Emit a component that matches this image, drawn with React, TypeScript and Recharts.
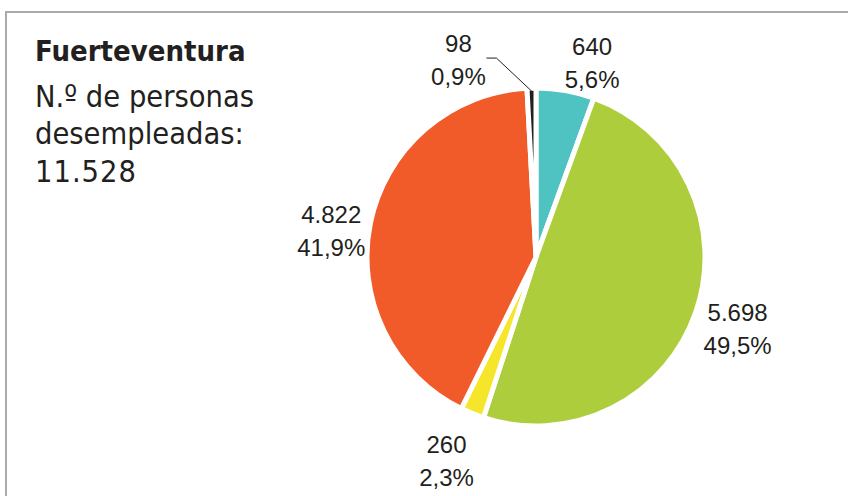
import React from "react";
import { PieChart, Pie, Cell } from "recharts";

// slices clockwise from 12 o'clock
const SLICE_NAMES = ["Turquesa", "Verde", "Amarillo", "Naranja", "Negro"];
const SLICE_VALUES = [640, 5698, 260, 4822, 98];
const SLICE_COLORS = ["#4ec3c1", "#aecd3c", "#f6e62b", "#f15a29", "#231f20"];
const TITLE = "Fuerteventura";
const SUBTITLE_LINES = ["N.º de personas", "desempleadas:"];
const TOTAL_LABEL = "11.528";

// label nudges (px) applied after radial placement
const LABEL_NUDGE: [number, number][] = [
  [20, 11],
  [5, 5],
  [-11, 12],
  [-1, 16],
  [-72, 11],
];
const LEADER_INDEX = 4;

const TEXT = "#231f20";
const LABEL_FONT = "'Liberation Sans', Arial, sans-serif";
const TITLE_FONT = "'DejaVu Sans Condensed', 'Liberation Sans', sans-serif";

const total = SLICE_VALUES.reduce((s, v) => s + v, 0);
const data = SLICE_NAMES.map((name, i) => ({ name, value: SLICE_VALUES[i] }));

const fmtInt = (v: number) => v.toString().replace(/\B(?=(\d{3})+(?!\d))/g, ".");
const fmtPct = (v: number) => ((v / total) * 100).toFixed(1).replace(".", ",") + "%";

const RAD = Math.PI / 180;

function renderLabel(props: any) {
  const { cx, cy, midAngle, outerRadius, index, value } = props;
  const r = outerRadius + 39;
  const x = cx + r * Math.cos(-midAngle * RAD) + LABEL_NUDGE[index][0];
  const y = cy + r * Math.sin(-midAngle * RAD) + LABEL_NUDGE[index][1];
  const edgeR = outerRadius - 3;
  const ex = cx + edgeR * Math.cos(-midAngle * RAD);
  const ey = cy + edgeR * Math.sin(-midAngle * RAD);
  return (
    <g key={`lbl-${index}`}>
      {index === LEADER_INDEX ? (
        <polyline
          points={`${x + 28},${y - 2} ${x + 38},${y - 2} ${ex},${ey}`}
          fill="none"
          stroke={TEXT}
          strokeWidth={1}
        />
      ) : null}
      <text
        x={x}
        y={y - 8.5}
        textAnchor="middle"
        fill={TEXT}
        fontSize={24}
        fontFamily={LABEL_FONT}
      >
        {fmtInt(value)}
      </text>
      <text
        x={x}
        y={y + 24.5}
        textAnchor="middle"
        fill={TEXT}
        fontSize={24}
        fontFamily={LABEL_FONT}
      >
        {fmtPct(value)}
      </text>
    </g>
  );
}

export default function App() {
  return (
    <div
      style={{
        position: "absolute",
        left: 0,
        top: 0,
        width: 848,
        height: 496,
        background: "#fff",
        overflow: "hidden",
      }}
    >
      <div
        style={{
          position: "absolute",
          left: 5,
          top: 11,
          width: 850,
          height: 500,
          borderTop: "2px solid #aaaaaa",
          borderLeft: "2px solid #aaaaaa",
        }}
      />
      <div style={{ position: "absolute", left: 35, top: 0, color: TEXT, fontFamily: TITLE_FONT }}>
        <div
          style={{
            position: "absolute",
            top: 64 - 27,
            whiteSpace: "nowrap",
            fontSize: 29,
            fontWeight: 700,
            lineHeight: "29px",
          }}
        >
          {TITLE}
        </div>
        {SUBTITLE_LINES.map((t, i) => (
          <div
            key={t}
            style={{
              position: "absolute",
              top: 110 - 28 + i * 37,
              whiteSpace: "nowrap",
              fontSize: 30.5,
              lineHeight: "30.5px",
            }}
          >
            {t}
          </div>
        ))}
        <div
          style={{
            position: "absolute",
            top: 185 - 28,
            whiteSpace: "nowrap",
            fontSize: 30.5,
            letterSpacing: 1,
            lineHeight: "30.5px",
          }}
        >
          {TOTAL_LABEL}
        </div>
      </div>
      <div style={{ position: "absolute", left: 0, top: 0 }}>
        <PieChart width={848} height={496} margin={{ top: 0, right: 0, bottom: 0, left: 0 }}>
          <Pie
            data={data}
            dataKey="value"
            cx={536}
            cy={257}
            outerRadius={169}
            startAngle={90}
            endAngle={-270}
            stroke="#ffffff"
            strokeWidth={5}
            label={renderLabel}
            labelLine={false}
            isAnimationActive={false}
          >
            {data.map((d, i) => (
              <Cell key={d.name} fill={SLICE_COLORS[i]} />
            ))}
          </Pie>
        </PieChart>
      </div>
    </div>
  );
}
